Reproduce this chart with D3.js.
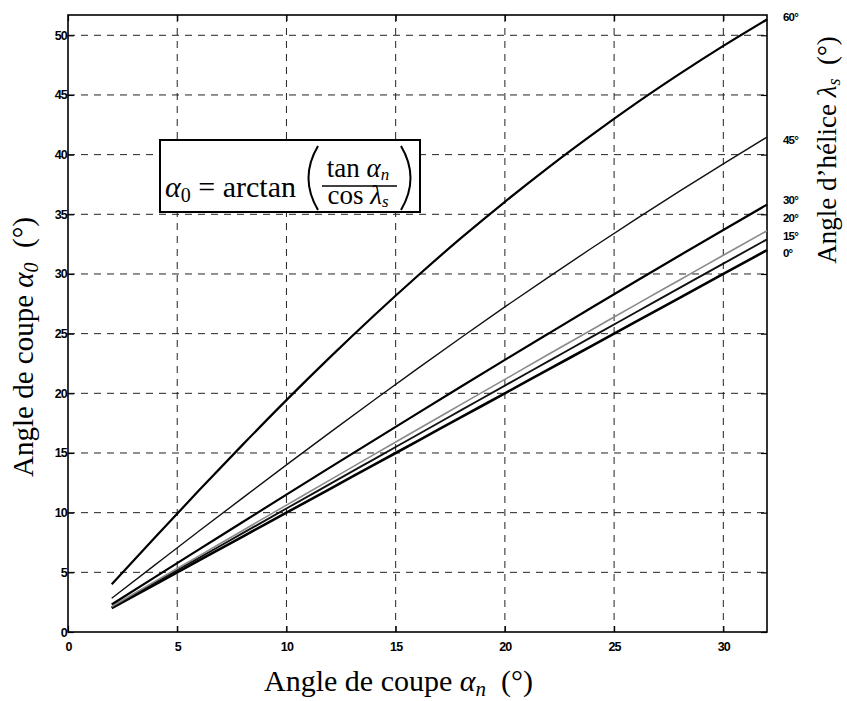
<!DOCTYPE html>
<html><head><meta charset="utf-8">
<script src="https://cdn.jsdelivr.net/npm/d3@7"></script>
<style>body{margin:0;background:#fff}</style>
</head><body><svg id="c" width="847" height="701"></svg>
<script>
// ---- data ----
const anglesN = [2,4,6,8,10,12,14,16,18,20,22,24,26,28,30,32];
const helixLabels = ["0°","15°","20°","30°","45°","60°"];
const a0_h0  = [2,4,6,8,10,12,14,16,18,20,22,24,26,28,30,32];
const a0_h15 = [2.07,4.14,6.21,8.28,10.35,12.41,14.47,16.53,18.59,20.65,22.70,24.75,26.79,28.83,30.87,32.90];
const a0_h20 = [2.13,4.26,6.38,8.51,10.63,12.75,14.86,16.97,19.07,21.17,23.27,25.35,27.43,29.50,31.57,33.62];
const a0_h30 = [2.31,4.62,6.92,9.22,11.51,13.79,16.06,18.32,20.57,22.80,25.01,27.21,29.39,31.55,33.69,35.81];
const a0_h45 = [2.83,5.65,8.46,11.24,14.00,16.73,19.42,22.07,24.68,27.24,29.74,32.20,34.60,36.94,39.23,41.47];
const a0_h60 = [4.00,7.96,11.87,15.70,19.43,23.03,26.50,29.83,33.02,36.05,38.94,41.68,44.29,46.76,49.11,51.33];
const xTicks = [0,5,10,15,20,25,30];
const yTicks = [0,5,10,15,20,25,30,35,40,45,50];

// ---- layout ----
const series = [a0_h0,a0_h15,a0_h20,a0_h30,a0_h45,a0_h60];
const styles = [
  {w:2.6,c:"#000"},{w:1.9,c:"#111"},{w:1.6,c:"#8a8a8a"},
  {w:2.2,c:"#000"},{w:1.4,c:"#111"},{w:2.2,c:"#000"}];
const labelPos = [31.8,33.2,34.7,36.2,41.2,51.5];

const svg = d3.select("#c");
const L=68, R=767, T=15, B=632;
const x = d3.scaleLinear().domain([0,32]).range([L,R]);
const y = d3.scaleLinear().domain([0,51.7]).range([B,T]);

// grid
const g = svg.append("g");
g.selectAll(".gx").data(xTicks.filter(d=>d>0)).enter().append("line")
  .attr("x1",d=>x(d)).attr("x2",d=>x(d)).attr("y1",T).attr("y2",B)
  .attr("stroke","#222").attr("stroke-width",1).attr("stroke-dasharray","7,6");
g.selectAll(".gy").data(yTicks.filter(d=>d>0)).enter().append("line")
  .attr("y1",d=>y(d)).attr("y2",d=>y(d)).attr("x1",L).attr("x2",R)
  .attr("stroke","#222").attr("stroke-width",1).attr("stroke-dasharray","7,6");

// axes with inward ticks
const fontTick = "bold 12.5px 'Liberation Sans', Arial, sans-serif";
const ax = svg.append("g").attr("transform",`translate(0,${B})`)
  .call(d3.axisBottom(x).tickValues(xTicks).tickSize(-6).tickPadding(10).tickFormat(d3.format("d")));
const ay = svg.append("g").attr("transform",`translate(${L},0)`)
  .call(d3.axisLeft(y).tickValues(yTicks).tickSize(-6).tickPadding(1).tickFormat(d3.format("d")));
const axT = svg.append("g").attr("transform",`translate(0,${T})`)
  .call(d3.axisTop(x).tickValues(xTicks).tickSize(-6).tickFormat(""));
const ayR = svg.append("g").attr("transform",`translate(${R},0)`)
  .call(d3.axisRight(y).tickValues(yTicks).tickSize(-6).tickFormat(""));
[ax,ay,axT,ayR].forEach(a=>{
  a.select(".domain").remove();
  a.selectAll("line").attr("stroke","#000").attr("stroke-width",1.2);
  a.selectAll("text").style("font",fontTick).attr("fill","#000").attr("letter-spacing","-0.8px");
});
// frame
svg.append("rect").attr("x",L).attr("y",T).attr("width",R-L).attr("height",B-T)
  .attr("fill","none").attr("stroke","#000").attr("stroke-width",1.6);

// curves
const line = d3.line().x((d,i)=>x(anglesN[i])).y(d=>y(d)).curve(d3.curveMonotoneX);
svg.append("g").selectAll("path").data(series).enter().append("path")
  .attr("d",d=>line(d)).attr("fill","none")
  .attr("stroke",(d,i)=>styles[i].c).attr("stroke-width",(d,i)=>styles[i].w);

// right-side helix labels
svg.append("g").selectAll("text").data(helixLabels).enter().append("text")
  .attr("x",783).attr("y",(d,i)=>y(labelPos[i])).attr("dy","0.35em")
  .style("font","bold 11.5px 'Liberation Sans', Arial, sans-serif").attr("letter-spacing","-0.8px")
  .text(d=>d);

// titles
const serif = "'Liberation Serif','Times New Roman',serif";
const xt = svg.append("text").attr("x",(262+535)/2).attr("y",691).attr("text-anchor","middle")
  .style("font-family",serif).style("font-size","30px");
xt.append("tspan").text("Angle de coupe ");
xt.append("tspan").attr("font-style","italic").text("α");
xt.append("tspan").attr("font-style","italic").attr("font-size","21px").attr("dy","5").text("n");
xt.append("tspan").attr("dy","-5").text("\u2002(°)");

const yt = svg.append("text").attr("transform","translate(33,347) rotate(-90)").attr("text-anchor","middle")
  .style("font-family",serif).style("font-size","29px");
yt.append("tspan").text("Angle de coupe ");
yt.append("tspan").attr("font-style","italic").text("α");
yt.append("tspan").attr("font-style","italic").attr("font-size","20px").attr("dy","5").text("0");
yt.append("tspan").attr("dy","-5").text("\u2002(°)");

const rt = svg.append("text").attr("transform","translate(836,150) rotate(-90)").attr("text-anchor","middle")
  .style("font-family",serif).style("font-size","27px");
rt.append("tspan").text("Angle d’hélice ");
rt.append("tspan").attr("font-style","italic").text("λ");
rt.append("tspan").attr("font-style","italic").attr("font-size","18px").attr("dy","4").text("s");
rt.append("tspan").attr("dy","-4").text("\u2002(°)");

// equation box
const eq = svg.append("g");
eq.append("rect").attr("x",160).attr("y",140).attr("width",260).attr("height",72)
  .attr("fill","#fff").attr("stroke","#000").attr("stroke-width",2);
const t1 = eq.append("text").attr("x",165).attr("y",197).style("font-family",serif).style("font-size","30px");
t1.append("tspan").attr("font-style","italic").text("α");
t1.append("tspan").attr("font-size","20px").attr("dy","5").text("0");
t1.append("tspan").attr("dy","-5").text(" = arctan");
// parentheses
eq.append("path").attr("d","M318,146 Q299,178 318,210").attr("fill","none").attr("stroke","#000").attr("stroke-width",2);
eq.append("path").attr("d","M401,146 Q420,178 401,210").attr("fill","none").attr("stroke","#000").attr("stroke-width",2);
eq.append("line").attr("x1",322).attr("x2",397).attr("y1",186).attr("y2",186).attr("stroke","#000").attr("stroke-width",1.5);
const num = eq.append("text").attr("x",358).attr("y",177).attr("text-anchor","middle").style("font-family",serif).style("font-size","27px");
num.append("tspan").text("tan ");
num.append("tspan").attr("font-style","italic").text("α");
num.append("tspan").attr("font-style","italic").attr("font-size","17px").attr("dy","3").text("n");
const den = eq.append("text").attr("x",358).attr("y",204).attr("text-anchor","middle").style("font-family",serif).style("font-size","27px");
den.append("tspan").text("cos ");
den.append("tspan").attr("font-style","italic").text("λ");
den.append("tspan").attr("font-style","italic").attr("font-size","17px").attr("dy","3").text("s");
</script></body></html>
